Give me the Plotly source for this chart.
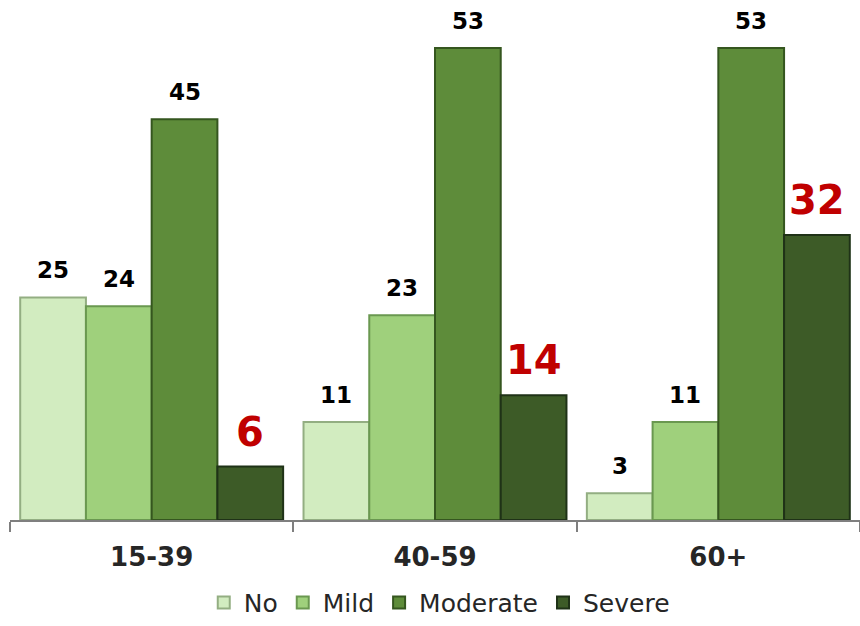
import plotly.graph_objects as go

categories = ["15-39", "40-59", "60+"]
series_names = ["No", "Mild", "Moderate", "Severe"]
values_no = [25, 11, 3]
values_mild = [24, 23, 11]
values_moderate = [45, 53, 53]
values_severe = [6, 14, 32]
all_values = [values_no, values_mild, values_moderate, values_severe]

fills = ["#D2ECC0", "#9FD07C", "#5E8C3A", "#3D5B27"]
edges = ["#93AE82", "#6A9850", "#35561F", "#1F3217"]

BARGAP = 0.072
font_bold = "DejaVu Sans"

fig = go.Figure()
for name, vals, fc, ec in zip(series_names, all_values, fills, edges):
    fig.add_trace(go.Bar(
        x=categories, y=vals, name=name,
        marker=dict(color=fc, line=dict(color=ec, width=2)),
        hoverinfo="skip",
    ))

w = (1 - BARGAP) / len(series_names)
annotations = []
for i, vals in enumerate(all_values):
    for ci, v in enumerate(vals):
        severe = series_names[i] == "Severe"
        annotations.append(dict(
            x=ci + (i - 1.5) * w, y=v, xref="x", yref="y",
            text=f"<b>{v}</b>", showarrow=False,
            yanchor="bottom", yshift=(10 if severe else 12),
            font=dict(family=font_bold, size=(40 if severe else 23),
                      color=("#C00000" if severe else "#000000")),
        ))

fig.update_layout(
    width=860, height=626,
    margin=dict(l=10, r=0, t=0, b=106, autoexpand=False),
    paper_bgcolor="white", plot_bgcolor="white",
    barmode="group", bargap=BARGAP, bargroupgap=0,
    annotations=annotations,
    xaxis=dict(
        showline=True, linecolor="#7F7F7F", linewidth=1.5,
        ticks="outside", tickson="boundaries", ticklen=10, tickcolor="#7F7F7F",
        tickwidth=1.5, automargin=False, ticklabelstandoff=13,
        tickfont=dict(family=font_bold, size=26, color="#262626"),
        tickprefix="<b>", ticksuffix="</b>",
        showgrid=False,
    ),
    yaxis=dict(range=[0, 58.4], visible=False, showgrid=False),
    legend=dict(
        orientation="h", x=0.505, xanchor="center", y=-0.2035, yanchor="bottom",
        font=dict(family="DejaVu Sans", size=25, color="#262626"),
        itemwidth=30, tracegroupgap=0,
    ),
    showlegend=True,
)

fig.write_html("out.html")
